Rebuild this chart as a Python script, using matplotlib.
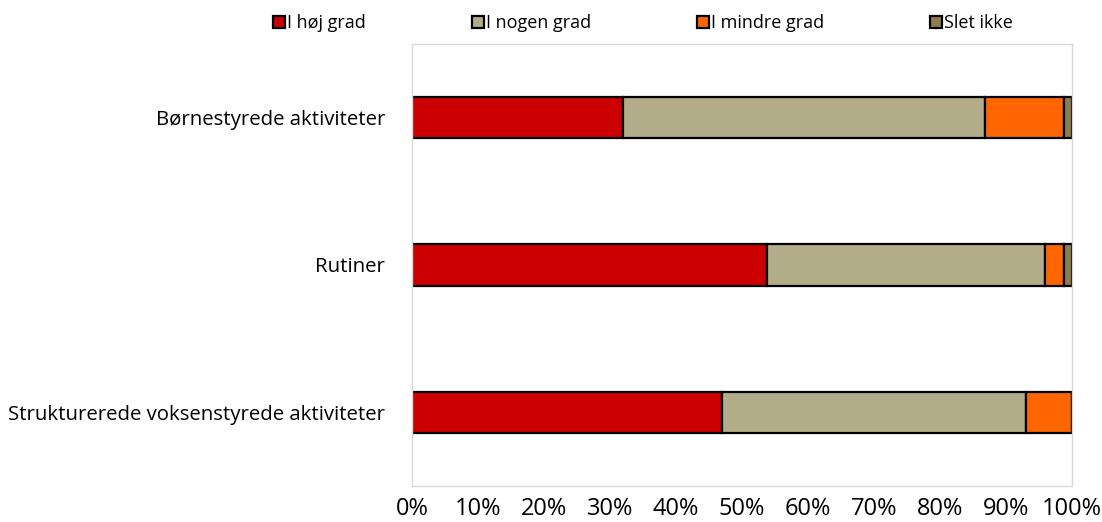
import matplotlib
matplotlib.use("Agg")
import matplotlib.pyplot as plt
import numpy as np

plt.rcParams['font.family'] = ['Open Sans', 'DejaVu Sans']

categories = ["Børnestyrede aktiviteter", "Rutiner", "Strukturerede voksenstyrede aktiviteter"]
series = ["I høj grad", "I nogen grad", "I mindre grad", "Slet ikke"]
hoj = [32.0, 53.8, 47.0]
nogen = [54.8, 42.1, 46.0]
mindre = [12.0, 2.9, 7.0]
slet = [1.2, 1.2, 0.0]
colors = ["#CC0000", "#B3AC88", "#FF6600", "#8C7E50"]

fig = plt.figure(figsize=(11.02, 5.22), dpi=100)
ax = fig.add_axes([412/1102, 36/522, 660/1102, 442/522])

y = np.arange(len(categories))[::-1]
left = np.zeros(len(categories))
for name, vals, c in zip(series, [hoj, nogen, mindre, slet], colors):
    vals = np.array(vals)
    ax.barh(y, vals, left=left, height=0.28, color=c, edgecolor="black",
            linewidth=1.6, label=name)
    left += vals

ax.set_xlim(0, 100)
ax.set_ylim(-0.5, 2.5)
ax.set_yticks(y)
ax.set_yticklabels(categories, fontsize=14.7)
ax.set_xticks(np.arange(0, 101, 10))
ax.set_xticklabels([f"{v}%" for v in range(0, 101, 10)], fontsize=17)
ax.tick_params(length=0)
ax.tick_params(axis="y", pad=19.5)
ax.tick_params(axis="x", pad=8)
for s in ax.spines.values():
    s.set_color("#D9D9D9")
    s.set_linewidth(1)

fig.legend(loc="center", bbox_to_anchor=(643/1102, 1 - 23/522), ncol=4,
           frameon=False, fontsize=13, handlelength=0.65, handleheight=0.65,
           handletextpad=0.1, columnspacing=5.9)

fig.savefig("out.png", dpi=100)
